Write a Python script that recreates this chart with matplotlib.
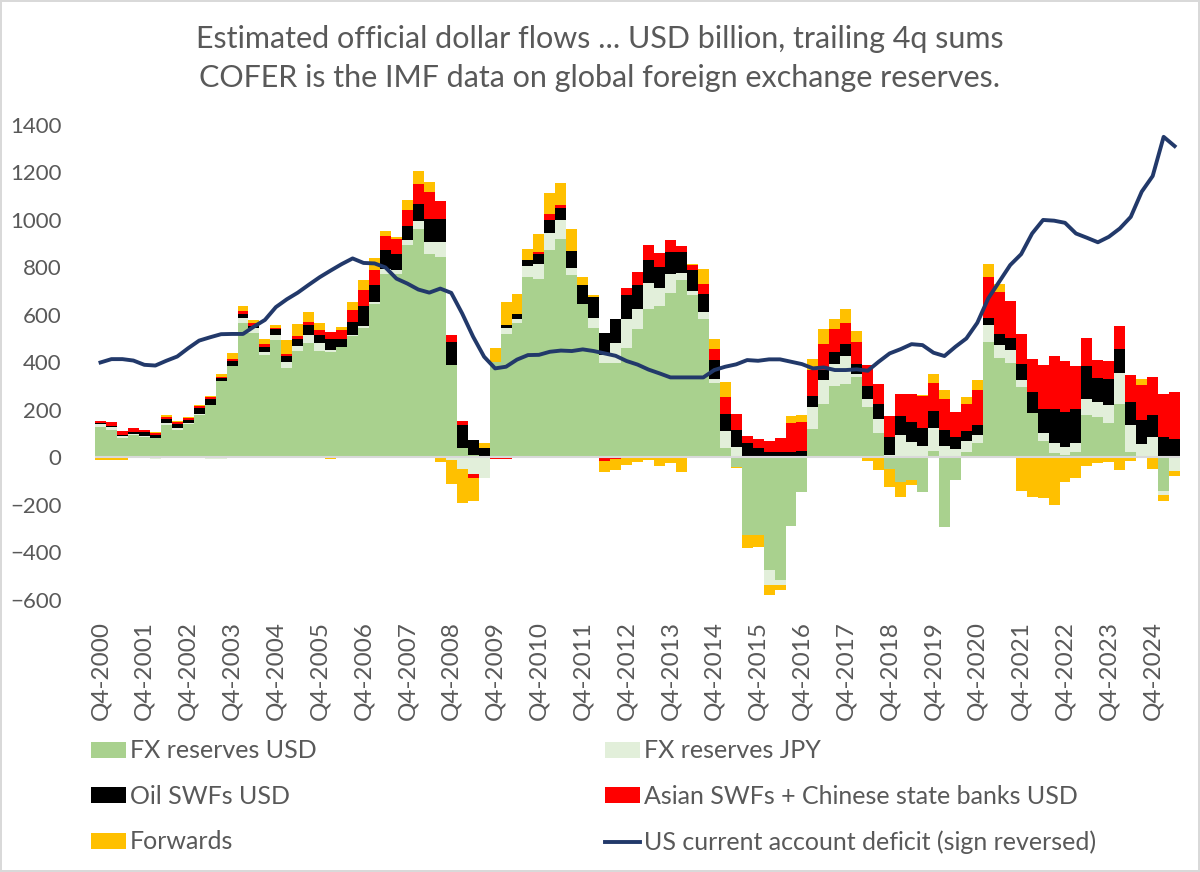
import numpy as np
import matplotlib
matplotlib.use("Agg")
import matplotlib.pyplot as plt
from matplotlib.patches import Patch
from matplotlib.lines import Line2D

plt.rcParams['font.family'] = ['Lato', 'DejaVu Sans']

# quarterly, Q4-2000 .. Q2-2025, USD billion, trailing 4q sums
fx_usd = [130, 116, 81, 95, 86, 81, 135, 116, 140, 180,
          222, 320, 383, 565, 523, 432, 495, 376, 450, 481,
          450, 443, 463, 512, 547, 645, 774, 774, 894, 960,
          856, 845, 389, 40, 10, 0, 400, 519, 567, 760,
          753, 875, 918, 767, 645, 543, 396, 398, 459, 540,
          627, 638, 693, 746, 683, 585, 314, 38, -40, -326,
          -326, -474, -516, -288, -144, 119, 224, 300, 309, 337,
          213, 104, -49, -102, -95, -145, 28, -292, -95, 24,
          62, 487, 420, 398, 297, 186, 69, 17, 10, 24,
          178, 171, 144, 225, 24, 0, 0, -140, 0]
fx_jpy = [11, 11, 10, 5, 3, -7, 10, 10, 3, 3,
          -8, -5, 0, 21, 21, 11, 21, 24, 20, 35,
          31, 10, 0, 4, 7, 10, 21, 17, 21, 36,
          52, 63, -10, -50, -70, -85, 0, 28, 15, 46,
          60, 70, 81, 32, 0, 46, 35, 85, 126, 87,
          108, 76, 81, 31, 18, 28, 18, 74, 45, 0,
          0, -63, -21, 0, 0, 94, 104, 95, 118, 14,
          31, 56, 10, 94, 63, 49, 97, 48, 36, 46,
          32, 70, 53, 53, 28, 0, 36, 42, 35, 38,
          66, 63, 77, 129, 112, 56, 84, -17, -57]
oil_swf = [3, 4, 4, 8, 17, 15, 18, 15, 15, 24,
           24, 14, 21, 18, 10, 24, 24, 28, 29, 42,
           35, 46, 36, 56, 84, 70, 77, 67, 59, 73,
           94, 94, 95, 95, 64, 40, 0, 10, 21, 24,
           42, 53, 52, 69, 80, 87, 94, 101, 98, 98,
           95, 86, 91, 88, 87, 77, 77, 73, 70, 59,
           38, 24, 24, 24, 28, 45, 42, 49, 50, 42,
           56, 67, 77, 80, 87, 76, 70, 67, 50, 41,
           42, 31, 46, 53, 70, 91, 98, 147, 147, 144,
           142, 102, 108, 101, 98, 101, 94, 87, 77]
asian_swf = [10, 17, 15, 14, 8, 6, 8, 8, 7, 8,
             7, 6, 11, 14, 11, 11, 4, 6, 14, 14,
             21, 31, 38, 49, 67, 66, 59, 63, 70, 81,
             116, 77, 31, 19, -17, 0, -5, -5, 0, 0,
             8, 25, 11, 0, 0, 0, -15, -5, 31, 56,
             63, 62, 52, 24, 21, 39, 46, 70, 70, 32,
             38, 46, 56, 119, 122, 109, 109, 98, 87, 91,
             88, 81, 87, 93, 116, 133, 119, 133, 106, 114,
             150, 173, 178, 154, 126, 136, 185, 220, 215, 178,
             119, 76, 79, 100, 112, 147, 161, 182, 199]
forwards = [-10, -10, -10, 0, 0, 7, 8, 4, 6, 6,
            4, 11, 24, 21, 14, 20, 13, 59, 49, 41,
            29, -8, 14, 35, 41, 49, 21, 7, 39, 55,
            42, -18, -100, -140, -95, 21, 62, 98, 84, 49,
            76, 90, 95, 95, 35, 7, -45, -48, -31, -20,
            -10, -38, -25, -62, 4, 63, 42, 63, -5, -55,
            -50, -42, -21, 31, 28, 46, 60, 42, 63, 48,
            -14, -53, -74, -63, -21, 4, 36, 35, 0, 31,
            39, 53, 32, 0, -143, -165, -170, -200, -105, -85,
            -38, -25, -20, -52, -15, 28, -48, -25, -21]
us_ca = [400, 414, 414, 408, 390, 387, 407, 425, 460, 492,
         506, 519, 520, 520, 551, 579, 633, 666, 694, 727,
         759, 787, 814, 838, 819, 817, 800, 753, 732, 707,
         694, 711, 693, 606, 508, 424, 375, 382, 412, 431,
         432, 445, 450, 448, 455, 448, 438, 428, 406, 391,
         370, 354, 337, 337, 337, 337, 368, 382, 392, 410,
         407, 413, 413, 403, 393, 375, 379, 368, 368, 371,
         365, 403, 438, 456, 477, 473, 441, 427, 466, 501,
         567, 670, 740, 810, 856, 943, 1000, 997, 988, 943,
         925, 906, 929, 964, 1013, 1119, 1185, 1350, 1311]

quarters = []
for yr in range(2000, 2026):
    for q in range(1, 5):
        if (yr == 2000 and q < 4) or (yr == 2025 and q > 2):
            continue
        quarters.append(f"Q{q}-{yr}")

bar_series = [
    ("FX reserves USD", fx_usd, "#A9D18E"),
    ("FX reserves JPY", fx_jpy, "#E2EFDA"),
    ("Oil SWFs USD", oil_swf, "#000000"),
    ("Asian SWFs + Chinese state banks USD", asian_swf, "#FF0000"),
    ("Forwards", forwards, "#FFC000"),
]
line_color = "#22396A"
txt_color = "#595959"

fig = plt.figure(figsize=(12, 8.72), dpi=100)
fig.patch.set_edgecolor("#D9D9D9")
fig.patch.set_linewidth(1.5)
ax = fig.add_axes([0.0792, 0.312, 0.9042, 0.5447])

x = np.arange(len(quarters))
pos_bot = np.zeros(len(x))
neg_bot = np.zeros(len(x))
for name, vals, col in bar_series:
    v = np.array(vals, dtype=float)
    bottom = np.where(v >= 0, pos_bot, neg_bot)
    ax.bar(x, v, bottom=bottom, width=1.0, color=col, linewidth=0)
    pos_bot = pos_bot + np.clip(v, 0, None)
    neg_bot = neg_bot + np.clip(v, None, 0)

ax.axhline(0, color="#D9D9D9", linewidth=1.5, zorder=3)
ax.plot(x, us_ca, color=line_color, linewidth=2.8, zorder=4,
        solid_joinstyle="round")

ax.set_xlim(-0.5, len(x) - 0.5)
ax.set_ylim(-600, 1400)
ax.set_yticks(np.arange(-600, 1401, 200))
ax.set_xticks(x[::4])
ax.set_xticklabels(quarters[::4], rotation=90)
ax.tick_params(axis="both", length=0, colors=txt_color)
ax.tick_params(axis="y", labelsize=16, pad=24)
ax.tick_params(axis="x", labelsize=17.5, pad=15)
for s in ax.spines.values():
    s.set_visible(False)

fig.text(0.5, 1 - 48 / 872, "Estimated official dollar flows ... USD billion, trailing 4q sums",
         ha="center", va="baseline", fontsize=22, color=txt_color)
fig.text(0.5, 1 - 87 / 872, "COFER is the IMF data on global foreign exchange reserves.",
         ha="center", va="baseline", fontsize=22, color=txt_color)

# legend, two columns laid out as in the original
h = {name: Patch(facecolor=col) for name, vals, col in bar_series}
line_h = Line2D([0], [0], color=line_color, linewidth=2.8)
leg_kw = dict(loc="upper left", frameon=False, fontsize=18, handlelength=1.4,
              handleheight=0.6, handletextpad=0.15, labelspacing=0.9,
              borderpad=0, borderaxespad=0, labelcolor=txt_color)
col1 = ["FX reserves USD", "Oil SWFs USD", "Forwards"]
fig.legend([h[n] for n in col1], col1, bbox_to_anchor=(0.0758, 0.152), **leg_kw)
col2 = ["FX reserves JPY", "Asian SWFs + Chinese state banks USD"]
fig.legend([h[n] for n in col2] + [line_h],
           col2 + ["US current account deficit (sign reversed)"],
           bbox_to_anchor=(0.504, 0.152), **leg_kw)

fig.savefig("out.png", dpi=100)
